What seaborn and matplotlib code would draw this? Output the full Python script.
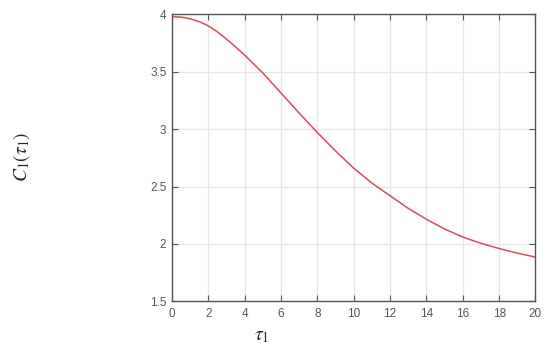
import numpy as np
import pandas as pd
import matplotlib
matplotlib.use("Agg")
import matplotlib.pyplot as plt
import seaborn as sns

# values (denser near the flat start)
tau = [0, 0.5, 1, 1.5, 2, 2.5, 3, 3.5, 4, 5, 6, 7, 8, 9, 10, 11, 12, 13, 14,
       15, 16, 17, 18, 19, 20]
c1 = [3.98, 3.977, 3.962, 3.937, 3.90, 3.848, 3.785, 3.717, 3.645, 3.49, 3.315,
      3.14, 2.97, 2.81, 2.66, 2.53, 2.42, 2.31, 2.215, 2.13, 2.06, 2.005,
      1.96, 1.92, 1.885]
xticks = [0, 2, 4, 6, 8, 10, 12, 14, 16, 18, 20]
yticks = [1.5, 2, 2.5, 3, 3.5, 4]

sns.set_style("whitegrid")
plt.rcParams['font.family'] = ['Liberation Sans', 'DejaVu Sans']
plt.rcParams['mathtext.fontset'] = 'stix'

df = pd.DataFrame({"tau": tau, "c1": c1})

fig = plt.figure(figsize=(5.5, 3.52), dpi=100)
ax = fig.add_axes([0.3127, 0.144, 0.6609, 0.815])
sns.lineplot(data=df, x="tau", y="c1", ax=ax, color="#dc4a56", linewidth=1.1)

ax.set_xlim(0, 20)
ax.set_ylim(1.5, 4)
ax.set_xticks(xticks)
ax.set_yticks(yticks)
ax.set_yticklabels(["1.5", "2", "2.5", "3", "3.5", "4"])
ax.grid(True, color="#e6e6e6", linewidth=0.9)
for s in ax.spines.values():
    s.set_color("#555555")
    s.set_linewidth(1.0)
    s.set_visible(True)
ax.tick_params(direction="in", length=4, width=0.8, color="#555555",
               labelsize=8.5, labelcolor="#555555", top=True, right=True,
               bottom=True, left=True)
ax.tick_params(axis="x", pad=5)
ax.tick_params(axis="y", pad=4)

ax.set_xlabel(r"$\tau_1$", fontsize=14, va="center")
ax.xaxis.set_label_coords(0.2476, -0.124)
ax.set_ylabel(r"$C_1(\tau_1)$", fontsize=14, va="center")
ax.yaxis.set_label_coords(-0.413, 0.503)

fig.savefig("out.png", dpi=100)
